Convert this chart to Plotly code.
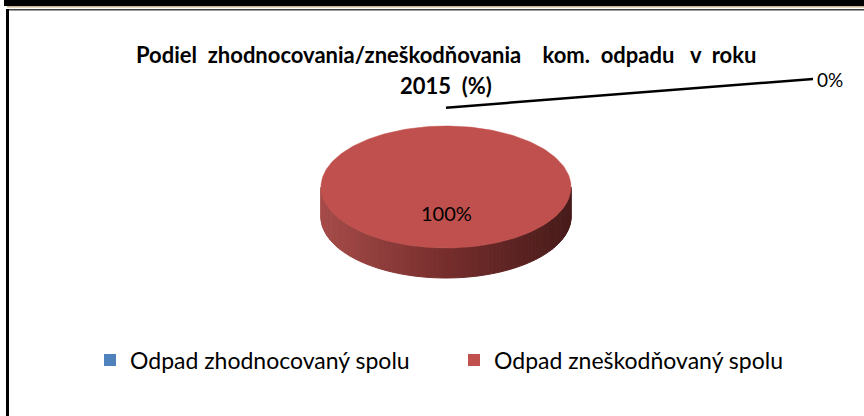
import numpy as np
import plotly.graph_objects as go

categories = ["Odpad zhodnocovaný spolu", "Odpad zneškodňovaný spolu"]
values = [0, 100]
colors = ["#4F81BD", "#C0504D"]
title_lines = ["Podiel  zhodnocovania/zneškodňovania    kom.  odpadu   v  roku", "2015  (%)"]

W, H = 864, 416
cx, cy, rx, ry, depth = 446, 187, 125, 61, 30
FONT = "Lato"
NB = "\u00a0"

fig = go.Figure()
total = float(sum(values))
fracs = [v / total for v in values]
spans = []
a = 0.0
for f in fracs:
    spans.append((a, a + f * 2 * np.pi))
    a += f * 2 * np.pi


def pt(theta, dy=0.0, k=1.0):
    return cx + k * rx * np.sin(theta), cy - k * ry * np.cos(theta) + dy


def side_color(t):
    stops = [(0.0, (166, 76, 74)), (0.5, (118, 46, 45)), (1.0, (72, 28, 27))]
    for (t0, c0), (t1, c1) in zip(stops[:-1], stops[1:]):
        if t <= t1:
            u = (t - t0) / (t1 - t0)
            c = [int(c0[i] + u * (c1[i] - c0[i])) for i in range(3)]
            return "rgb(%d,%d,%d)" % tuple(c)
    return "rgb(%d,%d,%d)" % stops[-1][1]


# side walls (front half only)
N = 90
for (a0, a1), col in zip(spans, colors):
    lo, hi = max(a0, np.pi / 2), min(a1, 3 * np.pi / 2)
    if hi <= lo:
        continue
    edges = np.linspace(lo, hi, N + 1)
    for t0, t1 in zip(edges[:-1], edges[1:]):
        ts = np.linspace(t0, t1, 4)
        top = [pt(t) for t in ts]
        bot = [pt(t, dy=depth) for t in ts[::-1]]
        xs = [p[0] for p in top + bot] + [top[0][0]]
        ys = [p[1] for p in top + bot] + [top[0][1]]
        xm = pt((t0 + t1) / 2)[0]
        c = side_color((xm - (cx - rx)) / (2 * rx))
        fig.add_trace(go.Scatter(x=xs, y=ys, mode="lines", fill="toself",
                                 fillcolor=c, line=dict(color=c, width=1),
                                 hoverinfo="skip", showlegend=False))

# top faces
for (a0, a1), col in zip(spans, colors):
    if a1 - a0 <= 0:
        continue
    ts = np.linspace(a0, a1, 240)
    xs = [cx] + [pt(t)[0] for t in ts] + [cx]
    ys = [cy] + [pt(t)[1] for t in ts] + [cy]
    fig.add_trace(go.Scatter(x=xs, y=ys, mode="lines", fill="toself",
                             fillcolor=col, line=dict(color=col, width=0.5),
                             hoverinfo="skip", showlegend=False))

# data labels
elbow = (805, 79)
for (a0, a1), f in zip(spans, fracs):
    mid = (a0 + a1) / 2
    txt = "%d%%" % round(f * 100)
    if f >= 0.05:
        lx, ly = pt(mid, k=0.43)
        fig.add_annotation(x=lx, y=ly, text=txt, showarrow=False,
                           font=dict(family=FONT, size=20, color="black"))
    else:
        sx, sy = pt(mid, k=1.3)
        fig.add_trace(go.Scatter(x=[sx, elbow[0], elbow[0] + 8], y=[sy, elbow[1], elbow[1]],
                                 mode="lines", line=dict(color="black", width=2.5),
                                 hoverinfo="skip", showlegend=False))
        fig.add_annotation(x=elbow[0] + 10, y=elbow[1], text=txt, showarrow=False,
                           xanchor="left", font=dict(family=FONT, size=19, color="black"))

# legend entries
for name, col in zip(categories, colors):
    fig.add_trace(go.Scatter(x=[None], y=[None], mode="markers", name=name,
                             marker=dict(symbol="square", size=12, color=col)))

# title
fig.add_annotation(x=446, y=54, text="<b>%s</b>" % title_lines[0].replace(" ", NB), showarrow=False,
                   font=dict(family=FONT, size=22, color="black"))
fig.add_annotation(x=446, y=85, text="<b>%s</b>" % title_lines[1].replace(" ", NB), showarrow=False,
                   font=dict(family=FONT, size=22, color="black"))

# frame
shapes = [
    dict(type="rect", x0=4, x1=W, y0=0, y1=6, fillcolor="black", line_width=0),
    dict(type="rect", x0=7, x1=W, y0=6, y1=7.5, fillcolor="#c8b48c", line_width=0),
    dict(type="rect", x0=8, x1=W, y0=9, y1=10.5, fillcolor="#404040", line_width=0),
    dict(type="rect", x0=6, x1=9, y0=9, y1=H, fillcolor="black", line_width=0),
]
for s in shapes:
    s.update(xref="x", yref="y", layer="above")
fig.update_layout(shapes=shapes)

fig.update_layout(
    width=W, height=H, margin=dict(l=0, r=0, t=0, b=0),
    paper_bgcolor="white", plot_bgcolor="white",
    xaxis=dict(range=[0, W], visible=False, fixedrange=True),
    yaxis=dict(range=[H, 0], visible=False, fixedrange=True),
    showlegend=True,
    legend=dict(orientation="h", x=90 / W, xanchor="left", y=1 - 360 / H, yanchor="middle",
                font=dict(family=FONT, size=23, color="black"),
                entrywidth=319, entrywidthmode="pixels", bgcolor="rgba(0,0,0,0)",
                itemclick=False, itemdoubleclick=False),
)

fig.write_html("out.html", config={"displayModeBar": False},
               post_script="document.body.style.margin='0px';")
